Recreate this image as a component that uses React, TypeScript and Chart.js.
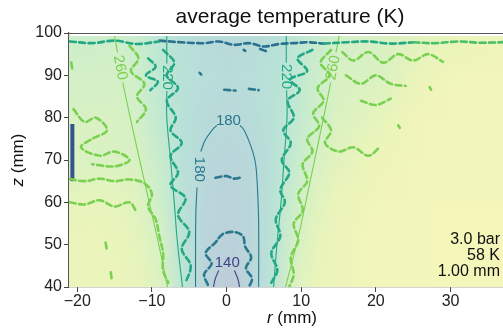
import React, { useEffect, useRef } from 'react';
import { Chart, registerables } from 'chart.js';
Chart.register(...registerables);

// ---------- axes ----------
const R_MIN = -21.1;
const R_MAX = 38.1;
const Z_MIN = 40;
const Z_MAX = 100;
const X_TICKS = [-20, -10, 0, 10, 20, 30];
const Y_TICKS = [40, 50, 60, 70, 80, 90, 100];

// ---------- background field (average temperature, K) ----------
const HEAT_R = [-21, -18, -15, -12, -9, -6, -3, 0, 3, 6, 9, 12, 15, 18, 21, 24, 27, 30, 33, 36];
const HEAT_Z = [40, 50, 60, 70, 80, 90, 100];
const HEAT_TOP = 99.3;
const T_Z40 = [284, 285, 284, 280, 268, 222, 172, 138, 171, 215, 268, 282, 287, 290, 292, 292, 293, 293, 293, 293];
const T_Z50 = [283, 284, 282, 276, 262, 212, 172, 156, 172, 210, 258, 278, 286, 290, 292, 292, 293, 293, 293, 293];
const T_Z60 = [278, 280, 278, 270, 250, 208, 175, 165, 175, 206, 248, 272, 284, 289, 291, 292, 293, 293, 293, 293];
const T_Z70 = [262, 264, 265, 262, 242, 205, 180, 172, 180, 204, 238, 262, 274, 282, 288, 290, 292, 292, 292, 292];
const T_Z80 = [262, 262, 264, 257, 232, 205, 190, 183, 190, 205, 230, 252, 266, 272, 280, 288, 291, 292, 292, 292];
const T_Z90 = [256, 256, 258, 250, 228, 206, 195, 190, 195, 206, 226, 248, 262, 264, 266, 278, 286, 290, 291, 292];
const T_Z100 = [248, 248, 250, 243, 222, 200, 188, 185, 188, 200, 220, 240, 255, 258, 262, 268, 275, 280, 283, 285];
const HEAT_ROWS = [T_Z40, T_Z50, T_Z60, T_Z70, T_Z80, T_Z90, T_Z100];
const T_LOW = 70;
const T_HIGH = 305;

// ---------- smooth contours [r, z] ----------
const C140_LEFT = [[-1.75, 40], [-1.5, 42], [-1.05, 43.9]];
const C140_RIGHT = [[1.05, 43.9], [1.5, 42], [1.75, 40]];
const C180_LEFT_LOW = [[-4.15, 40], [-4.15, 50], [-4.1, 58], [-3.95, 63.5]];
const C180_LEFT_HIGH = [[-3.45, 72], [-2.85, 74.7], [-1.9, 77.1], [-1.3, 78.2]];
const C180_RIGHT = [[1.8, 78.2], [2.3, 77.2], [2.95, 74.7], [3.5, 72], [3.9, 69], [4.15, 63], [4.3, 55], [4.3, 40]];
const C220_L_TOP = [[-8.0, 99.3], [-8.0, 92.8]];
const C220_L_LOW = [[-8.0, 86.3], [-8.0, 80], [-7.5, 70], [-7.0, 60], [-6.6, 51], [-5.9, 40]];
const C220_R_TOP = [[8.0, 99.3], [8.0, 93]];
const C220_R_LOW = [[8.05, 86.5], [8.1, 80], [7.7, 70], [7.3, 60], [6.8, 51], [6.3, 40]];
const C260_L_TOP = [[-15.0, 99.3], [-14.6, 95.4]];
const C260_L_LOW = [[-13.9, 88.3], [-12.9, 80], [-11.0, 65], [-9.2, 51], [-7.9, 40]];
const C260_R_TOP = [[15.1, 99.3], [14.65, 95.4]];
const C260_R_LOW = [[13.95, 88.3], [13.0, 80], [11.2, 65], [9.5, 51], [7.9, 40]];

// ---------- noisy (dashed) contours [r, z] ----------
const N200_TOP = [[-9, 98.2], [-6, 97.8], [-3, 97.6], [-1, 98], [1, 97.2], [3, 97.6], [5, 96.8], [7, 97.4], [9, 97.6], [11, 97.8], [13, 97.5]];
const N200_DOT1 = [[2.3, 96.0], [2.5, 95.8]];
const N200_DOT2 = [[4.5, 96.2], [5.5, 95.6]];
const N220_TOP_L = [[-21, 98], [-18, 97.6], [-15, 98.2], [-12, 97.4], [-9, 98]];
const N220_TOP_R = [[13, 97.5], [16, 97.8], [19, 98], [22, 97.5], [25, 97.8]];
const N240_TOP_R = [[25, 97.8], [28, 97.6], [31, 98], [34, 97.7], [38, 97.9]];
const N220_LEFT = [[-8.5, 96], [-7, 93], [-8, 90], [-6.5, 87], [-8, 84], [-6.8, 80], [-7.5, 77], [-6, 74], [-7.5, 71], [-6.5, 67], [-7.5, 64], [-5.5, 61], [-6.5, 57], [-5, 53], [-6, 49], [-4.8, 45], [-5.5, 41]];
const N220_LEFT2 = [[-10.5, 94], [-9.5, 92], [-10.8, 90], [-9.2, 88.5], [-10.2, 86.5]];
const N220_RIGHT = [[11.5, 96], [9.5, 94], [10.8, 91], [8.5, 89], [9.8, 86.5], [8.2, 84], [9, 80], [7.6, 77], [8.6, 74], [7.4, 70], [8.4, 67], [7.2, 63], [7.8, 60], [6.6, 56], [7.2, 52], [6, 48], [6.8, 44], [6, 41]];
const N260_L1 = [[-21, 65.5], [-19, 65], [-17, 65.6], [-15, 65], [-13, 65.4], [-11, 64.5], [-10, 62], [-10.5, 59], [-9.5, 56], [-9, 52], [-8.5, 48], [-8.5, 44], [-7.8, 41]];
const N260_L2 = [[-20.5, 82], [-19, 79], [-17.5, 80], [-16, 77], [-18, 75], [-19.5, 73], [-17, 71], [-15, 72], [-13, 70], [-15, 68.5], [-18, 69]];
const N260_L3 = [[-21, 60], [-19, 59.5], [-17, 60.5], [-15, 59], [-13, 60], [-12, 57.5]];
const N260_L4 = [[-13, 97], [-11.8, 94], [-12.8, 91], [-11, 88], [-12, 85], [-10.8, 82], [-12, 79]];
const N260_L5 = [[-16.2, 50.5], [-16.0, 48.5]];
const N260_L6 = [[-15.5, 43.5], [-15.4, 42]];
const N260_L7 = [[-20.8, 93], [-20.6, 91]];
const N260_R1 = [[14, 96], [12.6, 93], [13.8, 90], [12.2, 87], [13, 84], [11.6, 81], [12.4, 78], [10.8, 75], [11.5, 72], [10.2, 69], [10.8, 65], [9.6, 62], [10.2, 58], [9, 55], [9.6, 51], [8.6, 47], [9, 43], [8.4, 40]];
const N260_R2 = [[15.5, 95.5], [17, 93.5], [19, 95.5], [21, 93], [23, 95], [25, 93.5], [27, 95], [29, 93.2]];
const N260_R3 = [[16, 90], [18, 88], [20, 90], [22, 88], [24, 87.5]];
const N260_R4 = [[18, 84], [20, 83], [22, 84.5]];
const N260_R5 = [[12.8, 80], [14, 77], [13.2, 74], [15, 72], [17, 73], [19, 71], [20.5, 73]];
const N260_R6 = [[27.2, 87.2], [27.4, 86.6]];
const N260_R7 = [[23, 78.2], [23.2, 77.6]];
const N180_ARCH = [[-2.5, 40.5], [-3, 43], [-2, 45.5], [-2.8, 48], [-1.5, 50.5], [-0.5, 52.5], [1, 53], [2.2, 52], [2.5, 49.5], [3.3, 47], [2.6, 44.5], [3.4, 42], [3, 40]];
const N180_MID = [[-1.5, 65.8], [0, 66.2], [1, 65.6], [2.2, 66]];
const N180_UP1 = [[-0.3, 86.6], [1.2, 86.4]];
const N180_UP2 = [[3.0, 86.8], [4.3, 86.5]];
const N180_UP3 = [[-3.6, 90.6], [-3.4, 90.2]];
const EDGE_STREAK = [[-20.65, 65], [-20.65, 78.5]];

// ---------- contour labels ----------
const LABEL_TEXT = ['260', '220', '220', '260', '180', '180', '140'];
const LABEL_R = [-14.25, -8.0, 8.03, 14.3, 0.25, -3.7, 0.1];
const LABEL_Z = [91.8, 89.5, 89.7, 91.8, 79.2, 67.8, 45.8];
const LABEL_LEVEL = [260, 220, 220, 260, 180, 180, 140];
const LABEL_ROT = [79, 90, 90, -79, 0, 90, 0];

const ANNOT_LINES = ['3.0 bar', '58 K', '1.00 mm'];
const TITLE = 'average temperature (K)';

const LEVEL_COLOR: Record<number, string> = {
  140: '#414487',
  180: '#2a788e',
  200: '#2a7090',
  220: '#22a884',
  240: '#4cbf6a',
  260: '#7ad151',
};

const VIRIDIS = [
  [68, 1, 84], [72, 40, 120], [62, 73, 137], [49, 104, 142], [38, 130, 142],
  [31, 158, 137], [53, 183, 121], [110, 206, 88], [181, 222, 43], [253, 231, 37],
];
function viridis(t: number) {
  const c = Math.max(0, Math.min(1, t)) * (VIRIDIS.length - 1);
  const i = Math.min(VIRIDIS.length - 2, Math.floor(c));
  const f = c - i;
  const a = VIRIDIS[i], b = VIRIDIS[i + 1];
  return [a[0] + (b[0] - a[0]) * f, a[1] + (b[1] - a[1]) * f, a[2] + (b[2] - a[2]) * f];
}

const FONT = '"Liberation Sans", Arial, Helvetica, sans-serif';

const heatPlugin = {
  id: 'heat',
  beforeDatasetsDraw(chart: any) {
    const { ctx, chartArea, scales } = chart;
    const xs = scales.x, ys = scales.y;
    const nc = HEAT_R.length, nr = HEAT_Z.length;
    const off = document.createElement('canvas');
    off.width = nc; off.height = nr;
    const octx = off.getContext('2d')!;
    const img = octx.createImageData(nc, nr);
    const alpha = 0.32;
    for (let i = 0; i < nr; i++) {
      const row = HEAT_ROWS[nr - 1 - i];
      for (let j = 0; j < nc; j++) {
        const col = viridis((row[j] - T_LOW) / (T_HIGH - T_LOW));
        const k = (i * nc + j) * 4;
        img.data[k] = 255 - alpha * (255 - col[0]);
        img.data[k + 1] = 255 - alpha * (255 - col[1]);
        img.data[k + 2] = 255 - alpha * (255 - col[2]);
        img.data[k + 3] = 255;
      }
    }
    octx.putImageData(img, 0, 0);
    const dr = HEAT_R[1] - HEAT_R[0];
    const dz = HEAT_Z[1] - HEAT_Z[0];
    const x0 = xs.getPixelForValue(HEAT_R[0] - dr / 2);
    const x1 = xs.getPixelForValue(HEAT_R[nc - 1] + dr / 2);
    const y0 = ys.getPixelForValue(HEAT_Z[nr - 1] + dz / 2);
    const y1 = ys.getPixelForValue(HEAT_Z[0] - dz / 2);
    ctx.save();
    ctx.beginPath();
    const ct = ys.getPixelForValue(HEAT_TOP);
    ctx.rect(chartArea.left, ct, chartArea.right - chartArea.left, chartArea.bottom - ct);
    ctx.clip();
    ctx.imageSmoothingEnabled = true;
    ctx.drawImage(off, x0, y0, x1 - x0, y1 - y0);
    ctx.restore();
  },
};

const textPlugin = {
  id: 'texts',
  afterDatasetsDraw(chart: any) {
    const { ctx, scales } = chart;
    const xs = scales.x, ys = scales.y;
    ctx.save();
    ctx.font = `15px ${FONT}`;
    ctx.textAlign = 'center';
    ctx.textBaseline = 'middle';
    for (let i = 0; i < LABEL_TEXT.length; i++) {
      const px = xs.getPixelForValue(LABEL_R[i]);
      const py = ys.getPixelForValue(LABEL_Z[i]);
      ctx.save();
      ctx.translate(px, py);
      ctx.rotate((LABEL_ROT[i] * Math.PI) / 180);
      ctx.fillStyle = LEVEL_COLOR[LABEL_LEVEL[i]];
      ctx.fillText(LABEL_TEXT[i], 0, 0);
      ctx.restore();
    }
    ctx.restore();
  },
  afterDraw(chart: any) {
    const { ctx, chartArea } = chart;
    ctx.save();
    // top spine
    ctx.strokeStyle = '#555';
    ctx.lineWidth = 1.2;
    ctx.beginPath();
    ctx.moveTo(chartArea.left, chartArea.top + 0.5);
    ctx.lineTo(chartArea.right, chartArea.top + 0.5);
    ctx.stroke();
    // title
    ctx.fillStyle = '#111';
    ctx.textAlign = 'center';
    ctx.textBaseline = 'middle';
    ctx.font = `21px ${FONT}`;
    const cx = (chartArea.left + chartArea.right) / 2;
    ctx.fillText(TITLE, cx, 17);
    // axis labels with italic variable
    const drawMixed = (a: string, b: string, x: number, y: number) => {
      ctx.font = `italic 17px ${FONT}`;
      const wa = ctx.measureText(a).width;
      ctx.font = `17px ${FONT}`;
      const wb = ctx.measureText(b).width;
      const start = x - (wa + wb) / 2;
      ctx.textAlign = 'left';
      ctx.font = `italic 17px ${FONT}`;
      ctx.fillText(a, start, y);
      ctx.font = `17px ${FONT}`;
      ctx.fillText(b, start + wa, y);
    };
    drawMixed('r', ' (mm)', cx + 2, 318);
    ctx.save();
    ctx.translate(18, (chartArea.top + chartArea.bottom) / 2);
    ctx.rotate(-Math.PI / 2);
    drawMixed('z', ' (mm)', 0, 0);
    ctx.restore();
    // annotation
    ctx.font = `16px ${FONT}`;
    ctx.textAlign = 'right';
    ctx.fillStyle = '#111';
    ANNOT_LINES.forEach((t, i) => ctx.fillText(t, 500, 240 + i * 16));
    ctx.restore();
  },
};

function toPts(a: number[][]) {
  return a.map((p) => ({ x: p[0], y: p[1] }));
}

export default function App() {
  const ref = useRef<HTMLCanvasElement>(null);
  useEffect(() => {
    document.body.style.margin = '0';
    const canvas = ref.current!;
    const solid = (pts: number[][], level: number) => ({
      data: toPts(pts),
      showLine: true,
      borderColor: LEVEL_COLOR[level],
      borderWidth: 1.1,
      pointRadius: 0,
      tension: 0.4,
      fill: false,
    });
    const dashed = (pts: number[][], level: number) => ({
      data: toPts(pts),
      showLine: true,
      borderColor: LEVEL_COLOR[level],
      borderWidth: 2.6,
      borderDash: [6, 3.5],
      borderCapStyle: 'round',
      pointRadius: 0,
      tension: 0.35,
      fill: false,
    });
    const datasets: any[] = [
      dashed(N260_L1, 260), dashed(N260_L2, 260), dashed(N260_L3, 260), dashed(N260_L4, 260),
      dashed(N260_L5, 260), dashed(N260_L6, 260), dashed(N260_L7, 260),
      dashed(N260_R1, 260), dashed(N260_R2, 260), dashed(N260_R3, 260), dashed(N260_R4, 260),
      dashed(N260_R5, 260), dashed(N260_R6, 260), dashed(N260_R7, 260),
      dashed(N240_TOP_R, 240),
      dashed(N220_TOP_L, 220), dashed(N220_TOP_R, 220), dashed(N220_LEFT, 220), dashed(N220_LEFT2, 220), dashed(N220_RIGHT, 220),
      dashed(N200_TOP, 200), dashed(N200_DOT1, 200), dashed(N200_DOT2, 200),
      dashed(N180_ARCH, 180), dashed(N180_MID, 180), dashed(N180_UP1, 180), dashed(N180_UP2, 180), dashed(N180_UP3, 180),
      { ...solid(EDGE_STREAK, 140), borderWidth: 4, borderColor: '#34558c' },
      solid(C260_L_TOP, 260), solid(C260_L_LOW, 260), solid(C260_R_TOP, 260), solid(C260_R_LOW, 260),
      solid(C220_L_TOP, 220), solid(C220_L_LOW, 220), solid(C220_R_TOP, 220), solid(C220_R_LOW, 220),
      solid(C180_LEFT_LOW, 180), solid(C180_LEFT_HIGH, 180), solid(C180_RIGHT, 180),
      solid(C140_LEFT, 140), solid(C140_RIGHT, 140),
    ];
    const tickFmt = (v: any) => (v < 0 ? '\u2212' + Math.abs(v) : String(v));
    const chart = new Chart(canvas, {
      type: 'scatter',
      data: { datasets },
      options: {
        animation: false,
        responsive: false,
        devicePixelRatio: 1,
        layout: { padding: { top: 33, left: 0, right: 0, bottom: 0 } },
        plugins: { legend: { display: false }, tooltip: { enabled: false }, title: { display: false } },
        scales: {
          x: {
            type: 'linear',
            min: R_MIN,
            max: R_MAX,
            afterBuildTicks: (s: any) => { s.ticks = X_TICKS.map((v) => ({ value: v })); },
            afterFit: (s: any) => { s.height = 45; },
            ticks: { color: '#222', font: { family: FONT, size: 16 }, padding: 0, callback: tickFmt, maxRotation: 0, autoSkip: false },
            grid: { drawOnChartArea: false, tickLength: 5, color: '#444' },
            border: { color: '#555', width: 1.2 },
          },
          y: {
            type: 'linear',
            min: Z_MIN,
            max: Z_MAX,
            afterBuildTicks: (s: any) => { s.ticks = Y_TICKS.map((v) => ({ value: v })); },
            afterFit: (s: any) => { s.width = 69; },
            ticks: { color: '#222', font: { family: FONT, size: 16 }, padding: 2, callback: tickFmt, autoSkip: false },
            grid: { drawOnChartArea: false, tickLength: 5, color: '#444' },
            border: { color: '#555', width: 1.2 },
          },
        },
      } as any,
      plugins: [heatPlugin, textPlugin],
    });
    return () => chart.destroy();
  }, []);
  return (
    <div style={{ position: 'absolute', left: 0, top: 0, width: 503, height: 332, overflow: 'hidden', background: '#fff' }}>
      <canvas ref={ref} width={511} height={332} />
    </div>
  );
}
